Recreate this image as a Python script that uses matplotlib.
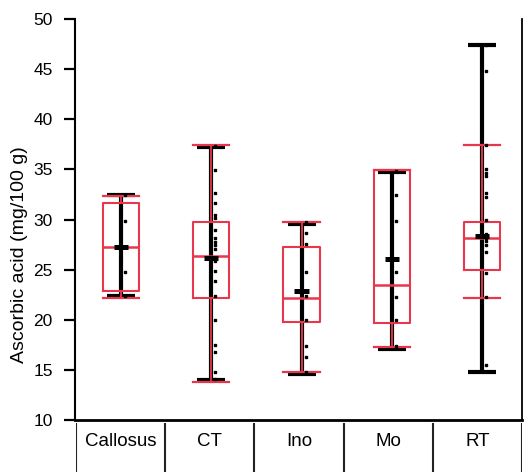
import matplotlib
matplotlib.use("Agg")
import matplotlib.pyplot as plt
from matplotlib.lines import Line2D

plt.rcParams['font.family'] = ['Liberation Sans', 'DejaVu Sans']

# Groups and summary statistics (mg/100 g)
groups = ["Callosus", "CT", "Ino", "Mo", "RT"]
q1 = [22.9, 22.2, 19.8, 19.7, 25.0]
median = [27.3, 26.4, 22.2, 23.5, 28.2]
q3 = [31.6, 29.8, 27.3, 34.9, 29.8]
whisker_low = [22.2, 13.8, 14.8, 17.3, 22.2]
whisker_high = [32.3, 37.4, 29.8, 34.9, 37.4]
range_min = [22.4, 14.0, 14.6, 17.1, 14.8]
range_max = [32.4, 37.2, 29.6, 34.7, 47.4]
means = [27.3, 26.2, 22.9, 26.1, 28.4]

# Individual observations per group
callosus_vals = [32.4, 29.9, 24.8, 22.4]
ct_vals = [37.3, 34.9, 32.6, 31.6, 30.4, 30.1, 29.0, 28.2, 27.8, 27.5, 27.1,
           26.2, 25.9, 24.9, 23.9, 22.4, 20.0, 17.5, 16.8, 14.8, 14.1]
ino_vals = [29.8, 28.7, 27.6, 24.8, 22.4, 20.0, 17.4, 16.3, 14.8]
mo_vals = [34.8, 32.4, 29.9, 24.8, 22.3, 20.0, 17.4]
rt_vals = [47.4, 44.8, 37.4, 35.0, 34.6, 34.3, 32.6, 32.2, 30.0, 28.6, 28.2,
           27.9, 27.5, 26.8, 24.7, 22.3, 15.5]
observations = [callosus_vals, ct_vals, ino_vals, mo_vals, rt_vals]

yticks = [10, 15, 20, 25, 30, 35, 40, 45, 50]

RED = '#e8374c'
W, H = 528, 472
fig = plt.figure(figsize=(W / 100, H / 100), dpi=100)

# main plotting area
ax = fig.add_axes([75 / W, (H - 420) / H, 447 / W, 401 / H])
positions = list(range(1, len(groups) + 1))

# black min-max range bars with caps
ax.vlines(positions, range_min, range_max, colors='black', lw=3.0, zorder=2)
cap_half = 0.155
ax.hlines(range_max, [p - cap_half for p in positions], [p + cap_half for p in positions],
          colors='black', lw=3.0, zorder=2)
ax.hlines(range_min, [p - cap_half for p in positions], [p + cap_half for p in positions],
          colors='black', lw=3.0, zorder=2)

# red box plots from the summary statistics
stats = []
for g, a, m, b, lo, hi in zip(groups, q1, median, q3, whisker_low, whisker_high):
    stats.append(dict(label=g, q1=a, med=m, q3=b, whislo=lo, whishi=hi, fliers=[]))
ax.bxp(stats, positions=positions, widths=0.4, capwidths=0.4, showfliers=False,
       patch_artist=False, manage_ticks=False,
       boxprops=dict(color=RED, lw=1.5),
       whiskerprops=dict(color=RED, lw=1.3),
       capprops=dict(color=RED, lw=1.6),
       medianprops=dict(color=RED, lw=1.8))

# mean markers
mean_half = 0.078
ax.hlines(means, [p - mean_half for p in positions], [p + mean_half for p in positions],
          colors='black', lw=3.6, zorder=4)

# individual observations, shifted slightly right of the bar
for p, vals in zip(positions, observations):
    ax.plot([p + 0.045] * len(vals), vals, linestyle='none', marker='s',
            markersize=2.0, color='black', zorder=5)

ax.set_xlim(0.49, 5.443)
ax.set_ylim(10, 50)
ax.set_yticks(yticks)
ax.set_yticklabels([str(t) for t in yticks], fontsize=12.5)
ax.set_xticks([])
ax.tick_params(axis='y', direction='out', length=8, width=1.6, pad=8, colors='black')
ax.spines['top'].set_visible(False)
ax.spines['left'].set_linewidth(1.5)
ax.spines['bottom'].set_linewidth(2.0)
ax.spines['right'].set_linewidth(1.3)

fig.text(20 / W, 1 - 255 / H, "Ascorbic acid (mg/100 g)", rotation=90,
         ha='center', va='center', fontsize=14)

# category band under the axis
band = fig.add_axes([76 / W, 0, 446 / W, 49 / H])
band.set_xlim(0, len(groups))
band.set_ylim(0, 1)
band.axis('off')
for i in range(len(groups) + 1):
    band.add_line(Line2D([i, i], [0, 1], color='#222222', lw=1.5))
for i, g in enumerate(groups):
    band.text(i + 0.5, 0.62, g, ha='center', va='center', fontsize=13.5)

fig.savefig('out.png', dpi=100)
